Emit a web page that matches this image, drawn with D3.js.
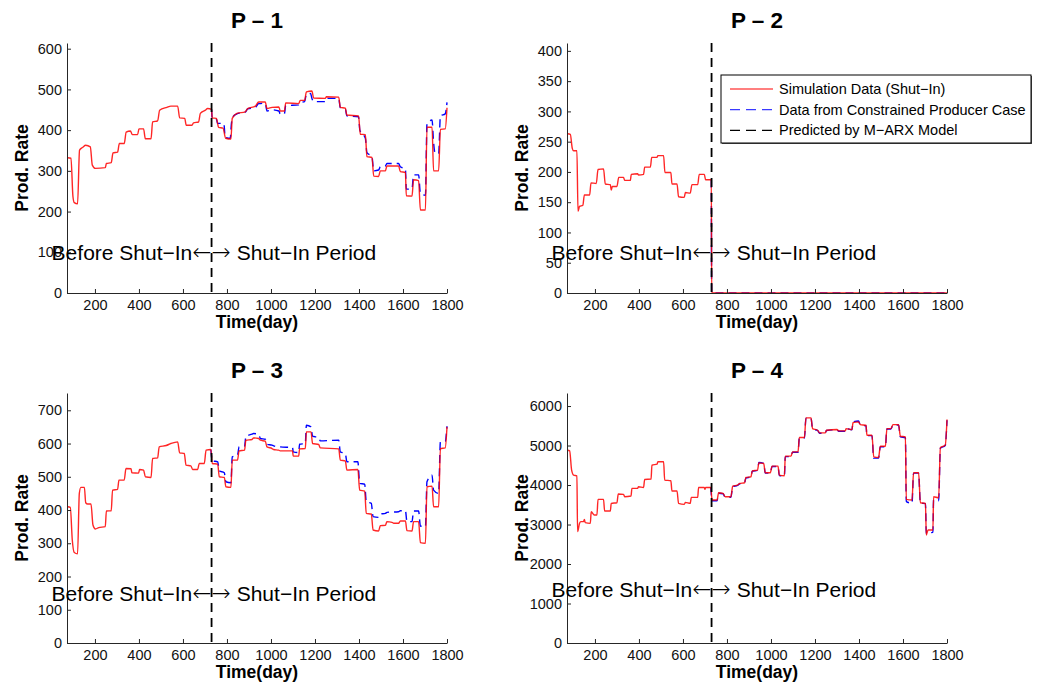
<!DOCTYPE html>
<html>
<head>
<meta charset="utf-8">
<script src="https://cdn.jsdelivr.net/npm/d3@7"></script>
<style>
  html, body { margin: 0; padding: 0; background: #fff; }
  svg { display: block; font-family: "Liberation Sans", Arial, Helvetica, sans-serif; }
</style>
</head>
<body>
<svg id="fig" width="1037" height="689"></svg>
<script>
// Production rate histories for four producers, [day, rate] pairs.
// "Sim" = simulation data with shut-in, "Con" = constrained producer case.
const p1Sim = [[76,332],[91,331],[100,237],[106,222],[121,219],[130,351],[145,358],[158,363],[179,359],[188,314],[202,306],[247,308],[252,318],[274,320],[282,344],[303,346],[311,367],[333,367],[342,395],[361,398],[370,389],[394,389],[400,403],[421,403],[429,379],[455,379],[462,420],[485,423],[494,449],[527,456],[545,459],[576,459],[585,430],[608,429],[615,412],[641,412],[648,418],[671,420],[679,441],[702,449],[712,453],[730,451],[733,430],[752,429],[762,407],[782,405],[794,380],[818,378],[824,429],[845,441],[883,445],[894,453],[929,459],[944,469],[974,469],[982,453],[1005,456],[1036,457],[1042,447],[1061,447],[1067,467],[1126,465],[1133,473],[1153,473],[1161,494],[1186,496],[1194,479],[1247,478],[1252,482],[1308,481],[1315,456],[1338,454],[1345,437],[1398,435],[1406,390],[1429,389],[1436,335],[1459,333],[1467,287],[1489,286],[1497,300],[1520,300],[1527,312],[1580,312],[1588,298],[1611,296],[1615,239],[1641,238],[1648,278],[1671,276],[1679,204],[1702,204],[1709,407],[1732,407],[1739,300],[1762,300],[1770,402],[1792,403],[1800,455]];
const p1Con = [[730,451],[733,428],[752,427],[757,417],[786,416],[792,382],[815,380],[820,415],[826,432],[845,440],[883,444],[894,452],[929,456],[944,465],[974,466],[982,447],[1005,450],[1036,447],[1042,440],[1061,440],[1067,460],[1126,462],[1133,468],[1153,470],[1161,488],[1180,490],[1186,478],[1194,470],[1247,470],[1252,478],[1308,478],[1315,455],[1338,452],[1345,435],[1398,433],[1404,400],[1429,380],[1436,345],[1459,335],[1467,300],[1489,302],[1497,310],[1520,312],[1527,318],[1580,318],[1588,310],[1611,305],[1615,255],[1641,256],[1648,290],[1671,290],[1679,245],[1702,240],[1709,415],[1732,425],[1739,370],[1745,345],[1762,342],[1770,435],[1792,440],[1800,468]];

const p2Sim = [[76,263],[88,262],[97,239],[103,235],[118,235],[123,135],[130,143],[145,145],[152,162],[176,162],[182,182],[206,181],[214,204],[239,205],[247,180],[270,179],[274,170],[279,176],[300,176],[308,191],[330,191],[335,186],[361,186],[365,196],[394,197],[398,195],[421,196],[426,208],[452,208],[458,224],[482,224],[486,227],[512,227],[518,199],[545,199],[550,180],[573,180],[580,159],[606,158],[611,166],[633,165],[641,179],[667,179],[674,196],[697,196],[703,187],[729,187],[730.5,0],[1800,0]];
const p2Con = [[729,187],[730.5,0],[1800,0]];

const p3Sim = [[76,410],[88,408],[97,310],[106,272],[121,268],[129,450],[136,468],[152,468],[158,422],[167,418],[182,418],[191,355],[202,343],[217,347],[247,350],[252,397],[274,398],[280,460],[303,462],[309,490],[333,490],[341,525],[364,524],[368,512],[398,511],[403,522],[421,520],[429,500],[455,498],[462,555],[485,557],[492,590],[524,594],[545,600],[576,605],[585,572],[606,570],[614,535],[636,533],[644,522],[667,522],[674,540],[697,540],[705,580],[727,582],[733,540],[758,538],[765,500],[788,498],[795,470],[818,468],[824,550],[848,550],[855,578],[880,580],[886,610],[914,612],[921,617],[944,615],[952,610],[974,607],[982,590],[1005,585],[1012,582],[1035,580],[1042,578],[1098,578],[1101,562],[1126,562],[1130,584],[1156,585],[1161,635],[1182,635],[1189,600],[1217,597],[1224,587],[1308,584],[1315,550],[1338,548],[1345,520],[1395,522],[1403,460],[1426,457],[1433,390],[1456,388],[1464,340],[1489,337],[1497,353],[1520,354],[1527,365],[1550,363],[1558,360],[1580,360],[1588,367],[1611,367],[1618,338],[1641,337],[1648,365],[1671,365],[1679,302],[1702,300],[1709,470],[1732,472],[1739,410],[1762,410],[1770,585],[1792,587],[1800,650]];
const p3Con = [[727,582],[733,548],[758,545],[765,518],[788,512],[795,485],[818,482],[824,560],[848,565],[855,590],[880,592],[886,622],[914,628],[921,630],[944,628],[952,615],[974,613],[982,598],[1005,595],[1012,593],[1042,590],[1098,588],[1101,575],[1126,573],[1130,598],[1156,600],[1161,655],[1182,650],[1189,622],[1217,618],[1224,608],[1308,610],[1315,575],[1338,570],[1345,545],[1395,545],[1403,480],[1426,478],[1433,425],[1456,420],[1464,380],[1489,378],[1497,388],[1520,390],[1527,393],[1580,395],[1588,398],[1611,398],[1618,365],[1641,365],[1648,397],[1671,397],[1679,352],[1702,350],[1709,485],[1732,505],[1739,460],[1762,450],[1770,605],[1792,607],[1800,652]];

const p4Sim = [[76,4882],[85,4865],[94,4377],[103,4251],[118,4234],[121,2820],[130,3030],[136,3072],[148,3072],[152,3131],[156,3047],[179,3030],[183,3325],[197,3241],[209,3241],[214,3636],[239,3636],[244,3342],[270,3342],[274,3535],[300,3552],[306,3771],[330,3763],[335,3704],[364,3721],[368,3914],[394,3914],[398,3956],[421,3939],[426,4141],[455,4150],[459,4503],[482,4529],[486,4588],[512,4588],[517,4125],[545,4108],[550,3847],[573,3847],[580,3535],[606,3510],[611,3561],[633,3535],[638,3687],[667,3687],[671,3939],[697,3939],[700,3889],[703,3939],[727,3939],[732,3620],[755,3620],[762,3805],[782,3788],[792,3704],[818,3704],[826,3973],[848,3998],[858,4040],[880,4057],[886,4192],[909,4209],[915,4360],[939,4377],[945,4562],[967,4545],[974,4310],[997,4310],[1005,4478],[1032,4478],[1038,4251],[1061,4234],[1065,4731],[1091,4731],[1098,4840],[1123,4840],[1129,5202],[1152,5202],[1159,5699],[1182,5699],[1189,5429],[1212,5387],[1221,5320],[1247,5320],[1252,5387],[1300,5404],[1308,5370],[1338,5370],[1341,5429],[1368,5404],[1373,5581],[1398,5598],[1406,5530],[1432,5513],[1436,5261],[1459,5261],[1467,4714],[1489,4697],[1497,4983],[1520,4983],[1527,5429],[1545,5429],[1555,5530],[1580,5530],[1588,5236],[1611,5219],[1615,3636],[1641,3620],[1648,4310],[1671,4310],[1679,3552],[1702,3535],[1706,2736],[1714,2862],[1736,2862],[1739,3704],[1762,3678],[1770,4949],[1792,5008],[1800,5657]];
const p4Con = [[727,3939],[732,3600],[755,3600],[762,3790],[782,3780],[792,3690],[818,3690],[826,3960],[848,3990],[858,4030],[880,4050],[886,4180],[909,4200],[915,4350],[939,4370],[945,4570],[967,4550],[974,4300],[997,4300],[1005,4470],[1032,4470],[1038,4240],[1061,4230],[1065,4720],[1091,4720],[1098,4830],[1123,4830],[1129,5190],[1152,5190],[1159,5690],[1182,5690],[1189,5420],[1212,5380],[1221,5310],[1247,5310],[1252,5380],[1300,5400],[1308,5360],[1338,5360],[1341,5430],[1368,5400],[1373,5600],[1398,5620],[1406,5520],[1432,5500],[1436,5250],[1459,5250],[1467,4680],[1489,4680],[1497,4970],[1520,4970],[1527,5420],[1545,5420],[1555,5520],[1580,5520],[1588,5220],[1611,5200],[1615,3580],[1641,3540],[1648,4300],[1671,4300],[1679,3540],[1702,3530],[1706,2760],[1714,2790],[1736,2800],[1739,3620],[1762,3600],[1770,4930],[1792,5000],[1800,5640]];

const titles = ["P – 1", "P – 2", "P – 3", "P – 4"];
const xTicks = [200, 400, 600, 800, 1000, 1200, 1400, 1600, 1800];
const yTicks1 = [0, 100, 200, 300, 400, 500, 600];
const yTicks2 = [0, 50, 100, 150, 200, 250, 300, 350, 400];
const yTicks3 = [0, 100, 200, 300, 400, 500, 600, 700];
const yTicks4 = [0, 1000, 2000, 3000, 4000, 5000, 6000];
const yLimits = [614, 413, 752, 6330];
const xLimits = [73, 1800];
const shutInDay = 730;
const noteLevels = [81, 54, 125, 1162];   // height of the period annotation, in rate units
const legendLabels = ["Simulation Data (Shut−In)", "Data from Constrained Producer Case", "Predicted by M−ARX Model"];

const panels = [
  { title: titles[0], sim: p1Sim, con: p1Con, yTicks: yTicks1, yMax: yLimits[0], note: noteLevels[0] },
  { title: titles[1], sim: p2Sim, con: p2Con, yTicks: yTicks2, yMax: yLimits[1], note: noteLevels[1] },
  { title: titles[2], sim: p3Sim, con: p3Con, yTicks: yTicks3, yMax: yLimits[2], note: noteLevels[2] },
  { title: titles[3], sim: p4Sim, con: p4Con, yTicks: yTicks4, yMax: yLimits[3], note: noteLevels[3] }
];

const svg = d3.select("#fig");
const W = 380, H = 250;
const colX = [67, 567], rowY = [43, 393];
const axisColor = "#262626";
const intFmt = d3.format("d");

panels.forEach((p, i) => {
  const g = svg.append("g")
    .attr("transform", `translate(${colX[i % 2]},${rowY[Math.floor(i / 2)]})`);

  const x = d3.scaleLinear().domain(xLimits).range([0, W]);
  const y = d3.scaleLinear().domain([0, p.yMax]).range([H, 0]);

  const line = d3.line().x(d => x(d[0])).y(d => y(d[1])).curve(d3.curveMonotoneX);

  // constrained producer case (blue dashed) underneath the simulation curve
  g.append("path").datum(p.con)
    .attr("d", line).attr("fill", "none")
    .attr("stroke", "#0000ff").attr("stroke-width", 1.4)
    .attr("stroke-dasharray", "8,5");

  g.append("path").datum(p.sim)
    .attr("d", line).attr("fill", "none")
    .attr("stroke", "#ff0000").attr("stroke-width", 1.4)
    .attr("stroke-opacity", 0.85);

  // axes, MATLAB style: ticks point inward, no box
  const xAxis = d3.axisBottom(x).tickValues(xTicks).tickFormat(intFmt)
    .tickSizeInner(-4).tickSizeOuter(0).tickPadding(7);
  const yAxis = d3.axisLeft(y).tickValues(p.yTicks).tickFormat(intFmt)
    .tickSizeInner(-4).tickSizeOuter(0).tickPadding(5);

  const gx = g.append("g").attr("transform", `translate(0,${H})`).call(xAxis);
  const gy = g.append("g").call(yAxis);
  [gx, gy].forEach(a => {
    a.select(".domain").attr("stroke", axisColor).attr("stroke-width", 1);
    a.selectAll(".tick line").attr("stroke", axisColor);
    a.selectAll(".tick text").attr("fill", "#111").style("font-size", "14.5px")
      .style("font-family", "'Liberation Sans', Arial, sans-serif");
  });

  // shut-in boundary
  g.append("line")
    .attr("x1", x(shutInDay)).attr("x2", x(shutInDay))
    .attr("y1", 0).attr("y2", H)
    .attr("stroke", "#000").attr("stroke-width", 1.8)
    .attr("stroke-dasharray", "9,6");

  // period annotation, arrows meeting on the boundary
  const left = g.append("text")
    .attr("x", x(shutInDay)).attr("y", y(p.note))
    .attr("text-anchor", "end")
    .style("font-size", "21px").attr("fill", "#000");
  left.append("tspan").text("Before Shut−In");
  left.append("tspan").style("font-family", "'DejaVu Sans', sans-serif")
    .style("font-size", "23px").style("font-weight", "200").text("←");

  const right = g.append("text")
    .attr("x", x(shutInDay)).attr("y", y(p.note))
    .attr("text-anchor", "start")
    .style("font-size", "21px").attr("fill", "#000");
  right.append("tspan").style("font-family", "'DejaVu Sans', sans-serif")
    .style("font-size", "23px").style("font-weight", "200").text("→");
  right.append("tspan").text(" Shut−In Period");

  // title and axis labels
  g.append("text")
    .attr("x", W / 2).attr("y", -15)
    .attr("text-anchor", "middle")
    .style("font-size", "22.5px").style("font-weight", "bold")
    .text(p.title);
  g.append("text")
    .attr("x", W / 2).attr("y", H + 35)
    .attr("text-anchor", "middle")
    .style("font-size", "17.5px").style("font-weight", "bold")
    .text("Time(day)");
  g.append("text")
    .attr("transform", `translate(-39,${H / 2}) rotate(-90)`)
    .attr("text-anchor", "middle")
    .style("font-size", "17.5px").style("font-weight", "bold")
    .text("Prod. Rate");

  // legend lives in the second panel
  if (i === 1) {
    const lg = g.append("g").attr("transform", "translate(154,32)");
    lg.append("rect").attr("x", 1).attr("y", 1).attr("width", 310).attr("height", 68)
      .attr("fill", "#555");
    lg.append("rect").attr("width", 310).attr("height", 68)
      .attr("fill", "#fff").attr("stroke", "#000").attr("stroke-width", 1);
    const styles = [
      { stroke: "#ff0000", dash: null },
      { stroke: "#3a3aff", dash: "10,6" },
      { stroke: "#000", dash: "10,6" }
    ];
    legendLabels.forEach((lab, k) => {
      const cy = 14 + k * 20.7;
      lg.append("line").attr("x1", 9).attr("x2", 52).attr("y1", cy).attr("y2", cy)
        .attr("stroke", styles[k].stroke).attr("stroke-width", 1.2)
        .attr("stroke-dasharray", styles[k].dash);
      lg.append("text").attr("x", 58).attr("y", cy).attr("dy", "0.35em")
        .style("font-size", "14.5px").attr("fill", "#000").text(lab);
    });
  }
});
</script>
</body>
</html>
